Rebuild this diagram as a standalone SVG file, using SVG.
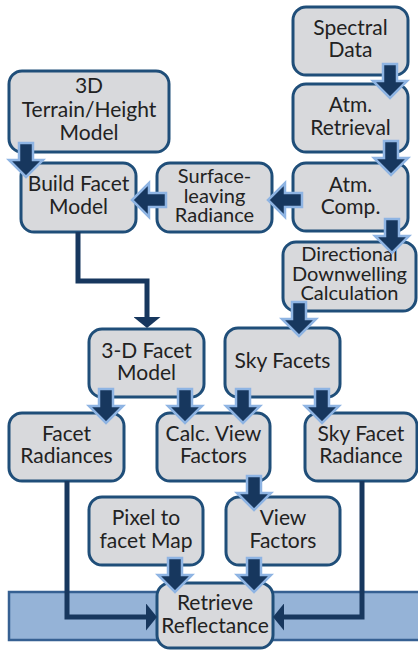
<svg xmlns="http://www.w3.org/2000/svg" width="418" height="651" viewBox="0 0 418 651">
<style>
.box{fill:#D8D9DC;stroke:#1F4E79;stroke-width:3}
.t{font-family:Lato,"Open Sans",sans-serif;font-size:21px;fill:#222;text-anchor:middle}
.s{font-size:20px}
.ln{fill:none;stroke:#17375E;stroke-width:5}
.ba{fill:#17375E;stroke:#8EB4E3;stroke-width:2.5;stroke-linejoin:miter}
</style>
<defs>
<path id="da" d="M-7,-34 H7 V-17 H17 L0,0 L-17,-17 H-7 Z"/>
<marker id="ah" viewBox="0 0 11 27" refX="0" refY="13.5" markerWidth="11" markerHeight="27" markerUnits="userSpaceOnUse" orient="auto">
<path d="M0,0 L11,13.5 L0,27 Z" fill="#17375E"/>
</marker>
</defs>
<rect x="9" y="592" width="415" height="48" fill="#95B3D7" stroke="#366092" stroke-width="2.5"/>
<g id="terrain"><rect class="box" x="9" y="71" width="160" height="81" rx="13"/><text class="t" x="89" y="93">3D</text><text class="t" x="89" y="117">Terrain/Height</text><text class="t" x="89" y="140">Model</text></g>
<g id="build"><rect class="box" x="21" y="163" width="115" height="69" rx="13"/><text class="t" x="78.5" y="191">Build Facet</text><text class="t" x="78.5" y="214">Model</text></g>
<g id="surface"><rect class="box" x="157" y="163" width="115" height="69" rx="13"/><text class="t s" x="214.5" y="183">Surface-</text><text class="t s" x="214.5" y="203">leaving</text><text class="t s" x="214.5" y="222">Radiance</text></g>
<g id="spectral"><rect class="box" x="293" y="7" width="115" height="68" rx="13"/><text class="t" x="350.5" y="35">Spectral</text><text class="t" x="350.5" y="57">Data</text></g>
<g id="atmret"><rect class="box" x="293" y="84" width="115" height="68" rx="13"/><text class="t" x="350.5" y="112">Atm.</text><text class="t" x="350.5" y="135">Retrieval</text></g>
<g id="atmcomp"><rect class="box" x="293" y="163" width="115" height="68" rx="13"/><text class="t" x="350.5" y="192">Atm.</text><text class="t" x="350.5" y="214">Comp.</text></g>
<g id="dirdown"><rect class="box" x="283" y="242" width="133" height="69" rx="13"/><text class="t s" x="349.5" y="261">Directional</text><text class="t s" x="349.5" y="281">Downwelling</text><text class="t s" x="349.5" y="300">Calculation</text></g>
<g id="facet3d"><rect class="box" x="89" y="329" width="115" height="68" rx="13"/><text class="t" x="146.5" y="358">3-D Facet</text><text class="t" x="146.5" y="380">Model</text></g>
<g id="skyfacets"><rect class="box" x="225" y="328" width="115" height="69" rx="13"/><text class="t" x="282.5" y="368">Sky Facets</text></g>
<g id="facetrad"><rect class="box" x="9" y="413" width="115" height="68" rx="13"/><text class="t" x="66.5" y="441">Facet</text><text class="t" x="66.5" y="463">Radiances</text></g>
<g id="calcview"><rect class="box" x="157" y="413" width="113" height="68" rx="13"/><text class="t" x="213.5" y="441">Calc. View</text><text class="t" x="213.5" y="463">Factors</text></g>
<g id="skyrad"><rect class="box" x="305" y="413" width="112" height="68" rx="13"/><text class="t" x="361" y="441">Sky Facet</text><text class="t" x="361" y="463">Radiance</text></g>
<g id="pixel"><rect class="box" x="89" y="497" width="114" height="68" rx="13"/><text class="t" x="146" y="525">Pixel to</text><text class="t" x="146" y="548">facet Map</text></g>
<g id="viewf"><rect class="box" x="226" y="497" width="114" height="68" rx="13"/><text class="t" x="283" y="525">View</text><text class="t" x="283" y="548">Factors</text></g>
<g id="retrieve"><rect class="box" x="157" y="583" width="116" height="65" rx="13"/><text class="t" x="215" y="610">Retrieve</text><text class="t" x="215" y="633">Reflectance</text></g>
<g id="connectors">
<path class="ln" d="M78,232 V281 H147 V317" marker-end="url(#ah)"/>
<path class="ln" d="M67,481 V617 H146" marker-end="url(#ah)"/>
<path class="ln" d="M362,481 V617 H284" marker-end="url(#ah)"/>
<use href="#da" class="ba" transform="translate(390,98)"/>
<use href="#da" class="ba" transform="translate(391,175)"/>
<use href="#da" class="ba" transform="translate(392,253)"/>
<use href="#da" class="ba" transform="translate(268,200) rotate(90)"/>
<use href="#da" class="ba" transform="translate(132,200) rotate(90)"/>
<use href="#da" class="ba" transform="translate(26,177)"/>
<use href="#da" class="ba" transform="translate(299,336)"/>
<use href="#da" class="ba" transform="translate(106,423)"/>
<use href="#da" class="ba" transform="translate(185,423)"/>
<use href="#da" class="ba" transform="translate(243,423)"/>
<use href="#da" class="ba" transform="translate(322,423)"/>
<use href="#da" class="ba" transform="translate(254,510)"/>
<use href="#da" class="ba" transform="translate(175,592)"/>
<use href="#da" class="ba" transform="translate(254,592)"/>
</g>
</svg>
